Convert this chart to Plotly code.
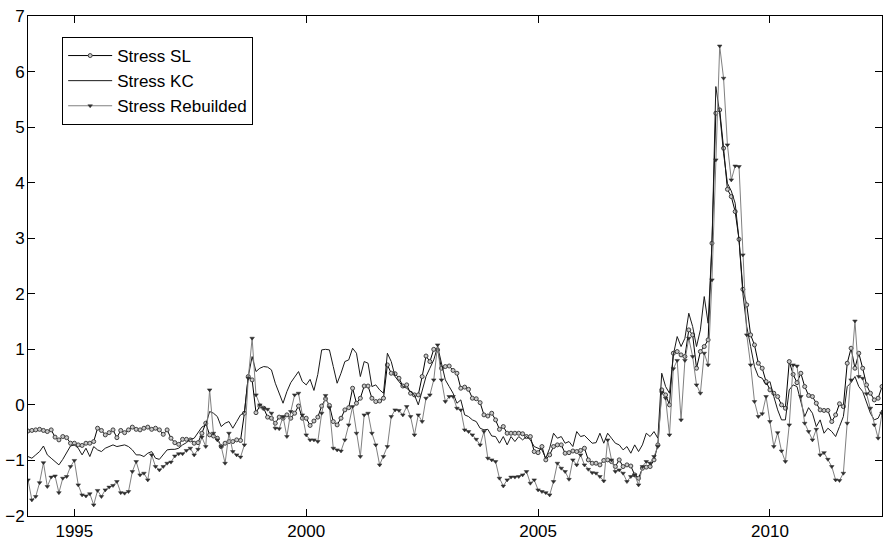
import numpy as np
import plotly.graph_objects as go

# Monthly series, Jan 1994 .. Jun 2012
start_year = 1994

stress_sl = [
    -0.47, -0.46, -0.45, -0.44, -0.46, -0.48, -0.45, -0.58, -0.63, -0.57, -0.59, -0.69,  # 1994
    -0.69, -0.72, -0.73, -0.69, -0.69, -0.66, -0.42, -0.46, -0.54, -0.50, -0.45, -0.59,  # 1995
    -0.46, -0.50, -0.45, -0.40, -0.44, -0.45, -0.42, -0.40, -0.44, -0.42, -0.45, -0.53,  # 1996
    -0.45, -0.60, -0.68, -0.71, -0.62, -0.62, -0.63, -0.69, -0.68, -0.51, -0.33, -0.54,  # 1997
    -0.56, -0.60, -0.75, -0.69, -0.66, -0.66, -0.63, -0.64, -0.15, 0.51, 0.45, -0.14,    # 1998
    -0.02, -0.06, -0.22, -0.24, -0.33, -0.22, -0.24, -0.18, -0.24, -0.15, -0.02, -0.24,  # 1999
    -0.24, -0.37, -0.29, -0.22, -0.02, 0.11, -0.01, -0.30, -0.36, -0.24, -0.09, -0.05,   # 2000
    0.30, 0.03, 0.12, 0.34, 0.34, 0.12, 0.06, 0.07, 0.12, 0.72, 0.57, 0.56,              # 2001
    0.48, 0.34, 0.36, 0.21, 0.18, 0.18, 0.51, 0.88, 0.78, 1.00, 0.99, 0.66,              # 2002
    0.69, 0.70, 0.62, 0.57, 0.30, 0.32, 0.28, 0.12, 0.11, 0.04, -0.18, -0.20,            # 2003
    -0.15, -0.27, -0.44, -0.39, -0.51, -0.51, -0.51, -0.51, -0.52, -0.57, -0.57, -0.84,  # 2004
    -0.86, -0.75, -0.99, -0.90, -0.75, -0.72, -0.72, -0.87, -0.86, -0.83, -0.84, -0.82,  # 2005
    -0.78, -0.99, -1.05, -1.05, -1.08, -1.00, -0.99, -1.02, -1.11, -0.99, -1.11, -1.08,  # 2006
    -1.10, -1.26, -1.32, -1.14, -1.12, -1.11, -0.99, -0.72, 0.27, 0.18, 0.00, 0.93,      # 2007
    0.96, 0.90, 0.87, 1.35, 1.26, 0.66, 0.96, 1.05, 1.17, 2.91, 5.25, 5.31,              # 2008
    4.62, 3.88, 3.75, 3.48, 2.98, 2.08, 1.80, 1.26, 1.08, 0.75, 0.66, 0.42,              # 2009
    0.27, 0.21, 0.15, 0.00, -0.06, 0.78, 0.55, 0.40, 0.57, 0.33, 0.17, 0.15,             # 2010
    0.03, -0.09, -0.10, -0.10, -0.30, -0.18, 0.02, -0.03, 0.75, 1.02, 0.66, 0.93,        # 2011
    0.66, 0.36, 0.21, 0.09, 0.12, 0.33,                                                  # 2012
]

stress_kc = [
    -0.93, -0.96, -0.90, -0.84, -0.74, -0.90, -0.96, -1.02, -1.08, -0.98, -0.87, -0.74,  # 1994
    -0.72, -0.78, -0.90, -0.78, -0.93, -0.75, -0.81, -0.84, -0.78, -0.75, -0.72, -0.75,  # 1995
    -0.74, -0.72, -0.75, -0.81, -0.90, -0.90, -0.93, -0.87, -0.84, -0.96, -0.98, -0.90,  # 1996
    -0.81, -0.80, -0.80, -0.78, -0.72, -0.68, -0.62, -0.60, -0.51, -0.40, -0.36, -0.12,  # 1997
    -0.15, -0.21, -0.39, -0.33, -0.30, -0.42, -0.30, -0.18, -0.14, 0.51, 0.87, 0.60,     # 1998
    0.66, 0.69, 0.68, 0.63, 0.39, 0.20, 0.03, 0.24, 0.40, 0.50, 0.60, 0.42,              # 1999
    0.36, 0.46, 0.26, 0.55, 0.99, 1.00, 0.99, 0.69, 0.39, 0.57, 0.78, 0.81,              # 2000
    1.02, 0.93, 0.51, 0.78, 0.75, 0.33, 0.36, 0.27, 0.21, 0.93, 0.78, 0.51,              # 2001
    0.42, 0.33, 0.30, 0.24, 0.18, 0.00, 0.27, 0.51, 0.66, 0.81, 1.05, 0.72,              # 2002
    0.45, 0.33, 0.21, 0.03, 0.09, -0.18, -0.21, -0.27, -0.30, -0.42, -0.45, -0.44,       # 2003
    -0.56, -0.57, -0.69, -0.57, -0.72, -0.57, -0.66, -0.57, -0.63, -0.57, -0.63, -0.75,  # 2004
    -0.78, -0.81, -0.96, -0.78, -0.51, -0.60, -0.57, -0.69, -0.66, -0.75, -0.48, -0.57,  # 2005
    -0.55, -0.63, -0.69, -0.68, -0.51, -0.69, -0.51, -0.60, -0.69, -0.72, -0.81, -0.75,  # 2006
    -0.87, -0.72, -0.84, -0.72, -0.51, -0.57, -0.48, -0.60, 0.57, 0.33, 0.21, 0.90,      # 2007
    1.23, 1.05, 1.20, 1.65, 1.41, 1.05, 1.35, 1.95, 1.47, 2.90, 5.73, 5.25,              # 2008
    4.53, 3.99, 3.85, 3.63, 2.97, 2.00, 1.41, 1.05, 0.69, 0.51, 0.48, 0.36,              # 2009
    0.42, 0.15, -0.09, -0.27, -0.27, 0.27, 0.36, 0.33, 0.03, -0.21, -0.05, -0.15,        # 2010
    -0.39, -0.27, -0.51, -0.42, -0.48, -0.57, -0.39, -0.21, 0.33, 0.40, 0.51, 0.33,      # 2011
    0.24, 0.06, -0.15, -0.27, -0.24, -0.09,                                              # 2012
]

stress_rebuilded = [
    -1.35, -1.71, -1.65, -1.40, -1.04, -1.47, -1.30, -1.28, -1.58, -1.32, -1.29, -1.11,  # 1994
    -1.00, -1.44, -1.62, -1.64, -1.60, -1.80, -1.54, -1.65, -1.53, -1.48, -1.45, -1.38,  # 1995
    -1.58, -1.59, -1.56, -1.20, -1.02, -1.26, -1.23, -1.35, -0.90, -1.11, -1.17, -1.11,  # 1996
    -1.05, -1.03, -0.92, -0.88, -0.88, -0.82, -0.78, -0.90, -0.80, -0.58, -0.75, 0.27,   # 1997
    -0.51, -0.63, -0.75, -1.05, -0.51, -0.84, -0.90, -0.94, -0.72, 0.48, 1.20, 0.18,     # 1998
    0.00, -0.06, -0.08, -0.15, -0.42, -0.43, -0.21, -0.57, -0.12, 0.18, 0.21, -0.18,     # 1999
    -0.54, -0.63, -0.63, -0.66, -0.15, 0.17, -0.05, -0.78, -0.81, -0.83, -0.63, -0.36,   # 2000
    -0.03, -0.51, -0.93, -0.18, -0.15, -0.51, -0.72, -1.08, -0.93, -0.75, -0.21, -0.09,  # 2001
    -0.10, -0.18, -0.03, -0.21, -0.54, -0.18, -0.30, 0.12, 0.18, 0.45, 1.08, 0.45,       # 2002
    0.06, 0.15, 0.15, -0.06, -0.09, -0.45, -0.48, -0.54, -0.62, -0.72, -0.48, -0.96,     # 2003
    -0.99, -1.02, -1.32, -1.46, -1.35, -1.30, -1.30, -1.29, -1.26, -1.20, -1.41, -1.35,  # 2004
    -1.53, -1.56, -1.58, -1.62, -1.38, -1.05, -1.14, -1.20, -1.34, -0.99, -1.08, -0.90,  # 2005
    -1.08, -1.16, -1.22, -1.23, -1.29, -1.37, -0.63, -0.99, -1.20, -1.17, -1.23, -1.38,  # 2006
    -1.29, -1.26, -1.44, -1.11, -1.02, -1.05, -0.93, -0.75, 0.22, 0.12, -0.54, 0.65,     # 2007
    0.80, -0.27, 0.80, 1.20, 0.87, 0.36, 0.21, 0.93, 0.72, 2.25, 4.41, 6.46,             # 2008
    5.88, 4.68, 4.05, 4.30, 4.29, 2.70, 1.26, 0.72, 0.06, -0.21, -0.16, 0.15,            # 2009
    -0.30, -0.75, -0.50, -0.83, -1.02, -0.36, 0.72, 0.70, 0.15, -0.33, -0.48, -0.63,     # 2010
    -0.44, -0.90, -0.86, -0.98, -1.11, -1.35, -1.36, -1.23, -0.33, 0.45, 1.51, 0.51,     # 2011
    0.48, 0.20, -0.06, -0.36, -0.60, -0.15,                                              # 2012
]

x_tick_values = [1995, 2000, 2005, 2010]
y_tick_values = [-2, -1, 0, 1, 2, 3, 4, 5, 6, 7]

assert len(stress_sl) == len(stress_kc) == len(stress_rebuilded), (
    len(stress_sl), len(stress_kc), len(stress_rebuilded))


def month_axis(values):
    return start_year + np.arange(len(values)) / 12.0


FONT = "Liberation Sans, Arial, Helvetica, sans-serif"

fig = go.Figure()
fig.add_trace(go.Scatter(
    x=month_axis(stress_sl), y=stress_sl, name="Stress SL", legendgroup="a",
    mode="lines+markers",
    line=dict(color="#000000", width=1),
    marker=dict(symbol="circle", size=4, color="#c8c8c8",
                line=dict(color="#404040", width=1)),
))
fig.add_trace(go.Scatter(
    x=month_axis(stress_kc), y=stress_kc, name="Stress KC", legendgroup="b",
    mode="lines",
    line=dict(color="#1a1a1a", width=1),
))
fig.add_trace(go.Scatter(
    x=month_axis(stress_rebuilded), y=stress_rebuilded, name="Stress Rebuilded",
    legendgroup="c", mode="lines+markers",
    line=dict(color="#808080", width=1),
    marker=dict(symbol="triangle-down", size=4, color="#2e2e2e",
                line=dict(color="#2e2e2e", width=0.5)),
))

n_last = len(stress_sl) - 1

axis_common = dict(
    showline=True, linecolor="black", linewidth=1, mirror="ticks",
    ticks="inside", ticklen=7, tickwidth=1, tickcolor="black",
    showgrid=False, zeroline=False, automargin=False,
    tickfont=dict(family=FONT, size=17, color="black"),
)

fig.update_layout(
    width=883, height=542,
    margin=dict(l=28, r=1, t=16, b=26),
    paper_bgcolor="white", plot_bgcolor="white",
    showlegend=True,
    legend=dict(
        x=0.04, y=0.958, xanchor="left", yanchor="top",
        bgcolor="white", bordercolor="black", borderwidth=1,
        font=dict(family=FONT, size=17, color="black"),
        traceorder="grouped", tracegroupgap=0, itemwidth=44,
    ),
    xaxis=dict(range=[start_year, start_year + n_last / 12.0],
               tickvals=x_tick_values, **axis_common),
    yaxis=dict(range=[-2, 7], tickvals=y_tick_values, ticklabelstandoff=-1,
               **axis_common),
)

fig.write_html(
    "out.html",
    config={"displayModeBar": False},
    post_script="document.body.style.margin='0';document.body.style.overflow='hidden';",
)
